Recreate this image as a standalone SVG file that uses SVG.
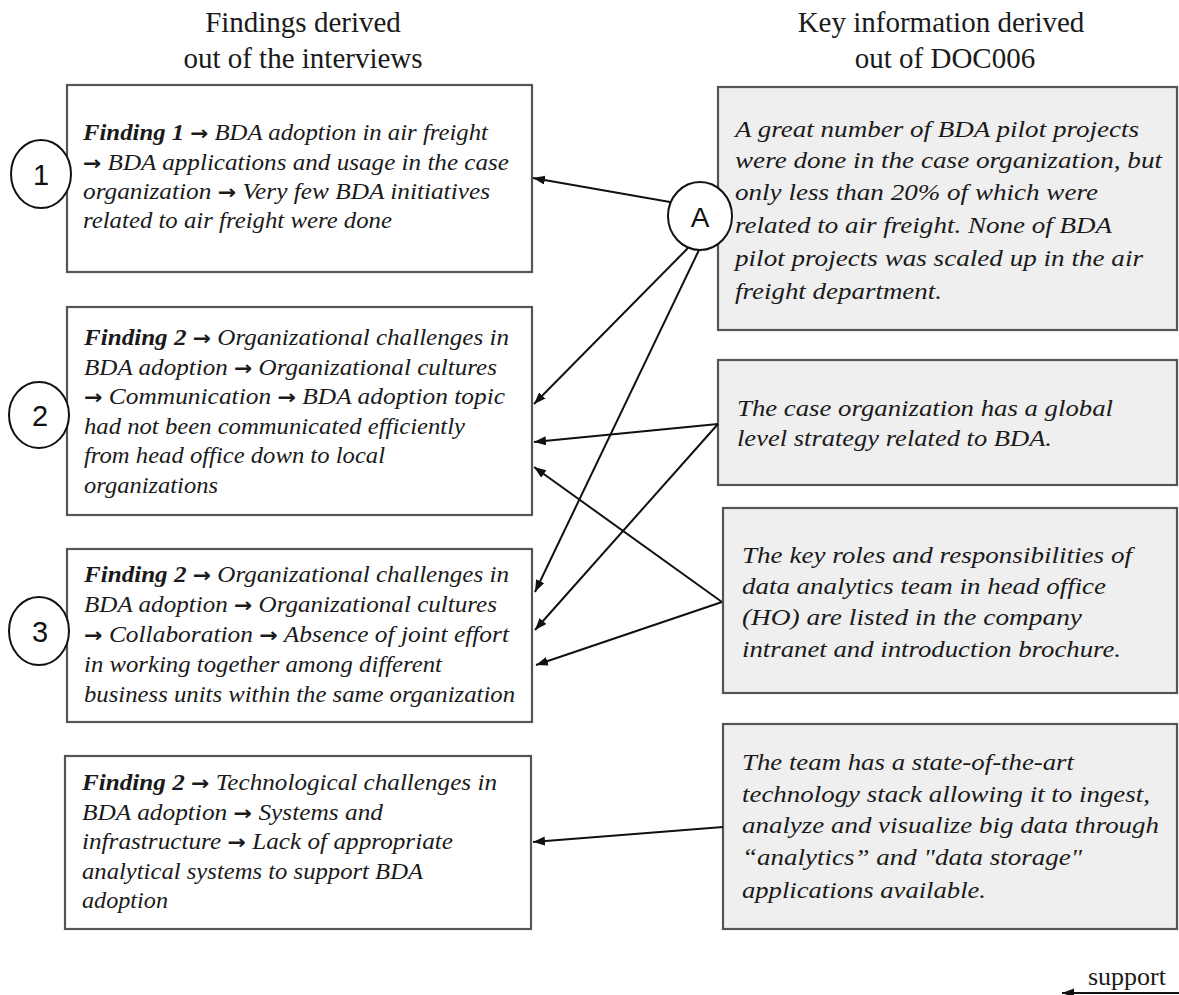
<svg xmlns="http://www.w3.org/2000/svg" width="1179" height="995" viewBox="0 0 1179 995">
  <defs>
    <marker id="head" markerUnits="userSpaceOnUse" markerWidth="14" markerHeight="10" refX="12" refY="4.5" orient="auto">
      <path d="M0,0 L12,4.5 L0,9 z" fill="#111"/>
    </marker>
    <style>
      .title { font-family: "Liberation Serif", "Times New Roman", serif; font-size: 29px; fill: #1a1a1a; text-anchor: middle; }
      .body { font-family: "Liberation Serif", "Times New Roman", serif; font-size: 23px; font-style: italic; fill: #1a1a1a; }
      .b { font-weight: bold; }
      .ar { font-family: "DejaVu Sans", sans-serif; font-style: normal; font-weight: bold; font-size: 20px; }
      .find { fill: #ffffff; stroke: #555; stroke-width: 2.2; }
      .info { fill: #efefef; stroke: #555; stroke-width: 2.2; }
      .tag { fill: #ffffff; stroke: #111; stroke-width: 2; }
      .tagtxt { font-family: "Liberation Sans", Arial, sans-serif; font-size: 29px; fill: #111; text-anchor: middle; dominant-baseline: central; }
      .conn { stroke: #111; stroke-width: 2; fill: none; marker-end: url(#head); }
    </style>
  </defs>

  <rect width="1179" height="995" fill="#ffffff"/>

  <!-- column headings -->
  <g id="heading-findings">
    <text class="title" x="303" y="32">Findings derived</text>
    <text class="title" x="303" y="68">out of the interviews</text>
  </g>
  <g id="heading-doc">
    <text class="title" x="941" y="32">Key information derived</text>
    <text class="title" x="945" y="68">out of DOC006</text>
  </g>

  <!-- findings column -->
  <g id="finding-1">
    <rect class="find" x="67" y="85" width="465" height="187"/>
    <text class="body" x="83" y="140" textLength="405" lengthAdjust="spacingAndGlyphs"><tspan class="b">Finding 1</tspan> <tspan class="ar">→</tspan> BDA adoption in air freight</text>
    <text class="body" x="83" y="170" textLength="426" lengthAdjust="spacingAndGlyphs"><tspan class="ar">→</tspan> BDA applications and usage in the case</text>
    <text class="body" x="83" y="199" textLength="407" lengthAdjust="spacingAndGlyphs">organization <tspan class="ar">→</tspan> Very few BDA initiatives</text>
    <text class="body" x="83" y="228" textLength="309" lengthAdjust="spacingAndGlyphs">related to air freight were done</text>
  </g>

  <g id="finding-2">
    <rect class="find" x="67" y="307" width="465" height="208"/>
    <text class="body" x="84" y="345" textLength="425" lengthAdjust="spacingAndGlyphs"><tspan class="b">Finding 2</tspan> <tspan class="ar">→</tspan> Organizational challenges in</text>
    <text class="body" x="84" y="375" textLength="413" lengthAdjust="spacingAndGlyphs">BDA adoption <tspan class="ar">→</tspan> Organizational cultures</text>
    <text class="body" x="84" y="404" textLength="421" lengthAdjust="spacingAndGlyphs"><tspan class="ar">→</tspan> Communication <tspan class="ar">→</tspan> BDA adoption topic</text>
    <text class="body" x="84" y="434" textLength="381" lengthAdjust="spacingAndGlyphs">had not been communicated efficiently</text>
    <text class="body" x="84" y="463" textLength="301" lengthAdjust="spacingAndGlyphs">from head office down to local</text>
    <text class="body" x="84" y="493" textLength="134" lengthAdjust="spacingAndGlyphs">organizations</text>
  </g>

  <g id="finding-3">
    <rect class="find" x="67" y="549" width="465" height="173"/>
    <text class="body" x="84" y="582" textLength="425" lengthAdjust="spacingAndGlyphs"><tspan class="b">Finding 2</tspan> <tspan class="ar">→</tspan> Organizational challenges in</text>
    <text class="body" x="84" y="612" textLength="413" lengthAdjust="spacingAndGlyphs">BDA adoption <tspan class="ar">→</tspan> Organizational cultures</text>
    <text class="body" x="84" y="642" textLength="425" lengthAdjust="spacingAndGlyphs"><tspan class="ar">→</tspan> Collaboration <tspan class="ar">→</tspan> Absence of joint effort</text>
    <text class="body" x="84" y="672" textLength="358" lengthAdjust="spacingAndGlyphs">in working together among different</text>
    <text class="body" x="84" y="702" textLength="431" lengthAdjust="spacingAndGlyphs">business units within the same organization</text>
  </g>

  <g id="finding-4">
    <rect class="find" x="65" y="756" width="466" height="173"/>
    <text class="body" x="82" y="790" textLength="415" lengthAdjust="spacingAndGlyphs"><tspan class="b">Finding 2</tspan> <tspan class="ar">→</tspan> Technological challenges in</text>
    <text class="body" x="82" y="820" textLength="301" lengthAdjust="spacingAndGlyphs">BDA adoption <tspan class="ar">→</tspan> Systems and</text>
    <text class="body" x="82" y="849" textLength="371" lengthAdjust="spacingAndGlyphs">infrastructure <tspan class="ar">→</tspan> Lack of appropriate</text>
    <text class="body" x="82" y="879" textLength="341" lengthAdjust="spacingAndGlyphs">analytical systems to support BDA</text>
    <text class="body" x="82" y="908" textLength="86" lengthAdjust="spacingAndGlyphs">adoption</text>
  </g>

  <!-- DOC006 column -->
  <g id="info-1">
    <rect class="info" x="718" y="87" width="459" height="243"/>
    <text class="body" x="735" y="137" textLength="404" lengthAdjust="spacingAndGlyphs">A great number of BDA pilot projects</text>
    <text class="body" x="735" y="168" textLength="427" lengthAdjust="spacingAndGlyphs">were done in the case organization, but</text>
    <text class="body" x="735" y="200" textLength="363" lengthAdjust="spacingAndGlyphs">only less than 20% of which were</text>
    <text class="body" x="735" y="233" textLength="377" lengthAdjust="spacingAndGlyphs">related to air freight. None of BDA</text>
    <text class="body" x="735" y="266" textLength="408" lengthAdjust="spacingAndGlyphs">pilot projects was scaled up in the air</text>
    <text class="body" x="735" y="299" textLength="207" lengthAdjust="spacingAndGlyphs">freight department.</text>
  </g>

  <g id="info-2">
    <rect class="info" x="718" y="360" width="459" height="125"/>
    <text class="body" x="737" y="416" textLength="376" lengthAdjust="spacingAndGlyphs">The case organization has a global</text>
    <text class="body" x="737" y="446" textLength="315" lengthAdjust="spacingAndGlyphs">level strategy related to BDA.</text>
  </g>

  <g id="info-3">
    <rect class="info" x="723" y="508" width="454" height="185"/>
    <text class="body" x="742" y="563" textLength="390" lengthAdjust="spacingAndGlyphs">The key roles and responsibilities of</text>
    <text class="body" x="742" y="594" textLength="364" lengthAdjust="spacingAndGlyphs">data analytics team in head office</text>
    <text class="body" x="742" y="625" textLength="340" lengthAdjust="spacingAndGlyphs">(HO) are listed in the company</text>
    <text class="body" x="742" y="657" textLength="379" lengthAdjust="spacingAndGlyphs">intranet and introduction brochure.</text>
  </g>

  <g id="info-4">
    <rect class="info" x="723" y="724" width="454" height="205"/>
    <text class="body" x="742" y="770" textLength="332" lengthAdjust="spacingAndGlyphs">The team has a state-of-the-art</text>
    <text class="body" x="742" y="802" textLength="408" lengthAdjust="spacingAndGlyphs">technology stack allowing it to ingest,</text>
    <text class="body" x="742" y="833" textLength="417" lengthAdjust="spacingAndGlyphs">analyze and visualize big data through</text>
    <text class="body" x="742" y="865" textLength="340" lengthAdjust="spacingAndGlyphs">“analytics” and "data storage"</text>
    <text class="body" x="742" y="898" textLength="244" lengthAdjust="spacingAndGlyphs">applications available.</text>
  </g>

  <!-- support links -->
  <g id="connectors">
    <line class="conn" x1="670" y1="202" x2="533" y2="178"/>
    <line class="conn" x1="688" y1="248" x2="534" y2="404"/>
    <line class="conn" x1="699" y1="250" x2="535" y2="592"/>
    <line class="conn" x1="718" y1="424" x2="534" y2="442"/>
    <line class="conn" x1="718" y1="424" x2="535" y2="630"/>
    <line class="conn" x1="722" y1="602" x2="534" y2="467"/>
    <line class="conn" x1="722" y1="602" x2="536" y2="665"/>
    <line class="conn" x1="723" y1="827" x2="533" y2="842"/>
  </g>

  <!-- numbered tags -->
  <g id="tag-1">
    <ellipse class="tag" cx="41" cy="174" rx="30" ry="34"/>
    <text class="tagtxt" x="41" y="175">1</text>
  </g>
  <g id="tag-2">
    <ellipse class="tag" cx="39" cy="415" rx="30" ry="33"/>
    <text class="tagtxt" x="40" y="416">2</text>
  </g>
  <g id="tag-3">
    <ellipse class="tag" cx="39" cy="631" rx="30" ry="34"/>
    <text class="tagtxt" x="40" y="632">3</text>
  </g>
  <g id="tag-A">
    <ellipse class="tag" cx="700" cy="216" rx="32" ry="34"/>
    <text class="tagtxt" x="700" y="217" style="font-size:28px">A</text>
  </g>

  <!-- legend -->
  <g id="legend">
    <text x="1088" y="985" style="font-family:'Liberation Serif','Times New Roman',serif;font-size:26px;fill:#1a1a1a">support</text>
    <line class="conn" x1="1180" y1="993" x2="1062" y2="993"/>
  </g>
</svg>
